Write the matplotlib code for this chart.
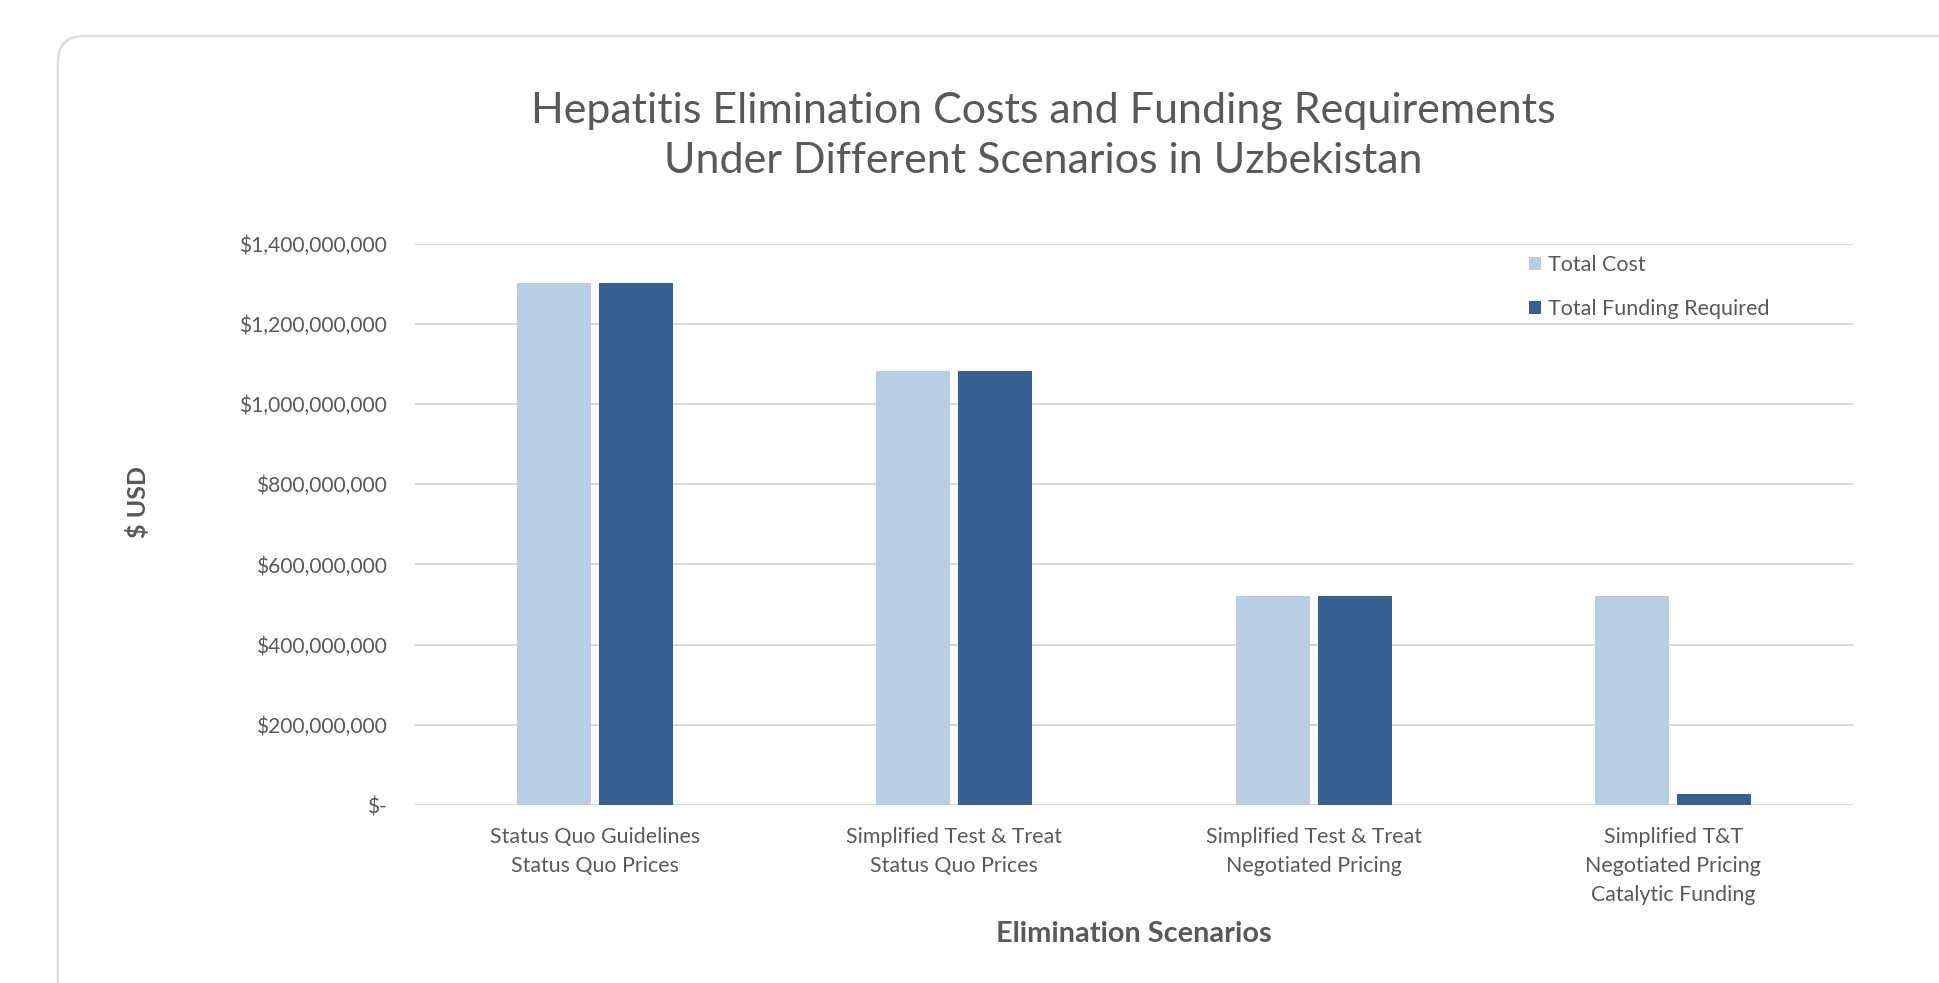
import numpy as np
import matplotlib.pyplot as plt
from matplotlib.patches import FancyBboxPatch, Patch
from matplotlib.transforms import IdentityTransform
from matplotlib.ticker import FuncFormatter, MultipleLocator

# data
escenarios = [
    "Status Quo Guidelines\nStatus Quo Prices",
    "Simplified Test & Treat\nStatus Quo Prices",
    "Simplified Test & Treat\nNegotiated Pricing",
    "Simplified T&T\nNegotiated Pricing\nCatalytic Funding",
]
custo_total = [1.302e9, 1.082e9, 0.522e9, 0.522e9]
financiamento = [1.302e9, 1.082e9, 0.522e9, 0.027e9]
series = ["Total Cost", "Total Funding Required"]

W, H = 1939, 983
cinza = "#595959"
claro = "#B9CDE5"
escuro = "#35608F"

plt.rcParams["font.family"] = ["Lato", "DejaVu Sans"]

fig = plt.figure(figsize=(W / 100, H / 100), dpi=100)

# moldura arredondada (em pixels), atras de tudo
moldura = FancyBboxPatch((58, -200), 2200, 983 - 36 + 200,
                         boxstyle="round,pad=0,rounding_size=26",
                         transform=IdentityTransform(), zorder=-5,
                         facecolor="white", edgecolor="#dcdcdc", linewidth=1.8)
fig.add_artist(moldura)

def fx(px):
    return px / W

def fy(py):
    return 1 - py / H

esq, dir_, topo, base = 415, 1853, 243.6, 805
ax = fig.add_axes([fx(esq), fy(base), fx(dir_) - fx(esq), (base - topo) / H])
ax.set_facecolor("none")

x = np.arange(len(escenarios))
larg = 0.206
desl = 0.114
ax.bar(x - desl, custo_total, larg, color=claro, zorder=3, label=series[0])
ax.bar(x + desl, financiamento, larg, color=escuro, zorder=3, label=series[1])

ax.set_xlim(-0.5, 3.5)
ax.set_ylim(0, 1.4e9)
ax.yaxis.set_major_locator(MultipleLocator(2e8))
ax.yaxis.set_major_formatter(FuncFormatter(lambda v, p: "$-" if v == 0 else f"${v:,.0f}"))
ax.grid(axis="y", color="#d6d6d6", linewidth=1.3, zorder=0)
ax.set_axisbelow(True)
for s in ax.spines.values():
    s.set_visible(False)
ax.tick_params(axis="y", length=0, pad=20, labelsize=15.1, labelcolor=cinza)
ax.tick_params(axis="x", length=0, pad=16, labelsize=15.4, labelcolor=cinza)
ax.set_xticks(x)
ax.set_xticklabels(escenarios, linespacing=1.55)

fig.text(fx(1043), fy(136), "Hepatitis Elimination Costs and Funding Requirements\nUnder Different Scenarios in Uzbekistan",
         ha="center", va="center", fontsize=31, color=cinza, linespacing=1.37)
fig.text(fx(138), fy(502), "$ USD", rotation=90, ha="center", va="center",
         fontsize=18, fontweight="bold", color=cinza)
fig.text(fx(1134), fy(934), "Elimination Scenarios", ha="center", va="center",
         fontsize=20.8, fontweight="bold", color=cinza)

alcas = [Patch(facecolor=claro), Patch(facecolor=escuro)]
fig.legend(alcas, series, loc="upper left", bbox_to_anchor=(fx(1529), fy(255)),
           frameon=False, fontsize=15.5, labelcolor=cinza, handlelength=0.58,
           handleheight=0.58, handletextpad=0.3, labelspacing=1.13,
           borderpad=0, borderaxespad=0)

fig.savefig("out.png", dpi=100, facecolor="white")
